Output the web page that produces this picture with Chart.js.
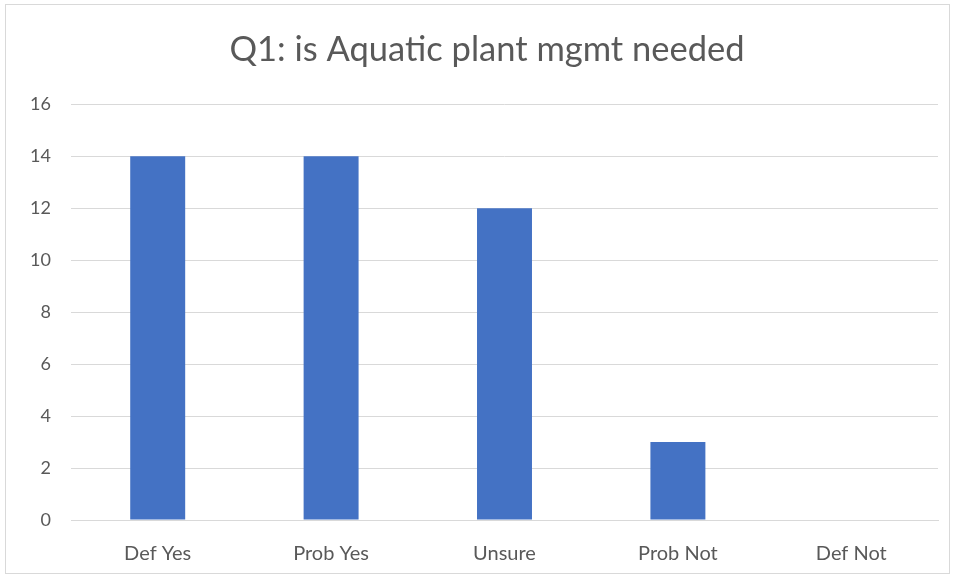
<!DOCTYPE html>
<html>
<head>
<meta charset="utf-8">
<script src="https://cdn.jsdelivr.net/npm/chart.js@4"></script>
<style>
  body { margin: 0; background: #fff; }
  #wrap { width: 955px; height: 578px; position: relative; }
</style>
</head>
<body>
<div id="wrap"><canvas id="chart"></canvas></div>
<script>
const categories = ['Def Yes', 'Prob Yes', 'Unsure', 'Prob Not', 'Def Not'];
const counts = [14, 14, 12, 3, 0];
const chartTitle = 'Q1: is Aquatic plant mgmt needed';

// light frame round the whole chart, and nudge the title a bit right
const frame = {
  id: 'frame',
  afterLayout(chart) {
    if (chart.titleBlock) chart.titleBlock.left = 36;
  },
  beforeDraw(chart) {
    const c = chart.ctx;
    c.save();
    c.fillStyle = '#fff';
    c.fillRect(0, 0, chart.width, chart.height);
    c.strokeStyle = '#d9d9d9';
    c.lineWidth = 1;
    c.strokeRect(5.5, 4.5, chart.width - 11, chart.height - 9);
    c.restore();
  }
};

new Chart(document.getElementById('chart'), {
  type: 'bar',
  data: {
    labels: categories,
    datasets: [{
      data: counts,
      backgroundColor: '#4472C4',
      barPercentage: 0.317,
      categoryPercentage: 1
    }]
  },
  options: {
    responsive: true,
    maintainAspectRatio: false,
    animation: false,
    layout: { padding: { left: 0, right: 17, top: 0, bottom: 0 } },
    plugins: {
      legend: { display: false },
      tooltip: { enabled: false },
      title: {
        display: true,
        text: chartTitle,
        color: '#595959',
        font: { family: 'Lato', size: 34.5, weight: 'normal' },
        padding: { top: 29, bottom: 34 }
      }
    },
    scales: {
      x: {
        grid: { display: false },
        border: { display: true, color: '#d9d9d9' },
        ticks: { color: '#595959', font: { family: 'Lato', size: 20 }, padding: 14 },
        afterFit(scale) { scale.height = 58; }
      },
      y: {
        min: 0,
        max: 16,
        ticks: { stepSize: 2, color: '#595959', font: { family: 'Lato', size: 18 }, padding: 20 },
        grid: { color: '#d9d9d9', drawTicks: false },
        border: { display: false },
        afterFit(scale) { scale.width = 71; }
      }
    }
  },
  plugins: [frame]
});
</script>
</body>
</html>
